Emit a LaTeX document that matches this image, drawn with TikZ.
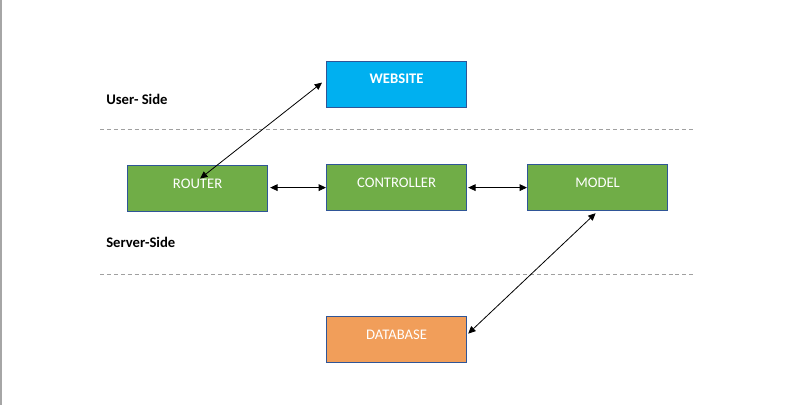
\documentclass[tikz,border=0pt]{standalone}
\usepackage{fontspec}
\setmainfont{Carlito}
\usetikzlibrary{arrows.meta,calc}
\definecolor{boxgreen}{HTML}{70AD47}
\definecolor{boxblue}{HTML}{00B0F0}
\definecolor{boxorange}{HTML}{F19E5A}
\definecolor{boxedge}{HTML}{2F5597}
\definecolor{dashgray}{HTML}{A0A0A0}
\tikzset{
  px/.style={x=0.75pt,y=-0.75pt},
  block/.style={draw=boxedge,line width=0.9pt,minimum width=105pt,minimum height=34.5pt,inner sep=0pt,anchor=north west},
  blocktext/.style={text=white,font=\fontsize{11pt}{13pt}\selectfont,inner sep=0pt},
  sidetext/.style={font=\bfseries\fontsize{11pt}{13pt}\selectfont,anchor=west,inner sep=0pt},
  sep/.style={draw=dashgray,line width=0.75pt,dash pattern=on 3pt off 2.2pt},
  link/.style={line width=0.6pt,{Triangle[length=5.5pt,width=5pt]}-{Triangle[length=5.5pt,width=5pt]}}
}
\begin{document}
\begin{tikzpicture}[px]
\useasboundingbox (0,0) rectangle (788,405);
\draw[draw=gray!70,line width=0.9pt] (1,0) -- (1,405);
% separators
\coordinate (s1a) at (100,129);
\coordinate (s1b) at (695,129);
\coordinate (s2a) at (100,274);
\coordinate (s2b) at (694,274);
\draw[sep] (s1a) -- (s1b);
\draw[sep] (s2a) -- (s2b);
% side labels
\node[sidetext] (user) at (106,99) {User- Side};
\node[sidetext] (server) at (106,242) {Server-Side};
% blocks
\node[block,fill=boxblue] (website) at (326,61) {};
\node[blocktext,font=\bfseries\fontsize{11pt}{13pt}\selectfont] (websitetxt) at ($(website.center)+(0,-6)$) {WEBSITE};
\node[block,fill=boxgreen] (router) at (127,165) {};
\node[blocktext] (routertxt) at ($(router.center)+(0,-5)$) {ROUTER};
\node[block,fill=boxgreen] (controller) at (326,164) {};
\node[blocktext] (controllertxt) at ($(controller.center)+(0,-5)$) {CONTROLLER};
\node[block,fill=boxgreen] (model) at (527,164) {};
\node[blocktext] (modeltxt) at ($(model.center)+(0,-5)$) {MODEL};
\node[block,fill=boxorange] (database) at (326,316) {};
\node[blocktext] (databasetxt) at ($(database.center)+(0,-5)$) {DATABASE};
% connectors
\draw[link] ($(router.center)+(2.5,-10)$) -- ($(website.west)+(-4,-2)$);
\draw[link] ($(router.east)+(2,-1)$) -- ($(controller.west)+(0,0)$);
\draw[link] ($(controller.east)+(1,0)$) -- ($(model.west)+(0,0)$);
\draw[link] ($(model.south)+(-2,2)$) -- ($(database.east)+(1,-6)$);
\end{tikzpicture}
\end{document}
